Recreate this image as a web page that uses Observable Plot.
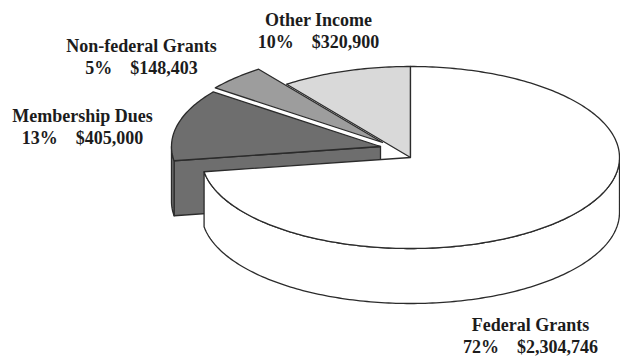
<!DOCTYPE html>
<html><head><meta charset="utf-8">
<script src="https://cdn.jsdelivr.net/npm/d3@7"></script>
<script src="https://cdn.jsdelivr.net/npm/@observablehq/plot@0.6"></script>
<style>html,body{margin:0;padding:0;background:#fff;} #chart svg{display:block}</style>
</head><body><div id="chart"></div><script>
// ---- data ----
const categories = ["Federal Grants", "Membership Dues", "Non-federal Grants", "Other Income"];
const amounts = [2304746, 405000, 148403, 320900];
const percentLabels = ["72%", "13%", "5%", "10%"];
const amountLabels = ["$2,304,746", "$405,000", "$148,403", "$320,900"];

// ---- layout / style ----
const W = 620, H = 358;
const CX = 410, CY = 157, RX = 209, RY = 91, DEPTH = 55;
const fills = {"Federal Grants": "#ffffff", "Membership Dues": "#6e6e6e", "Non-federal Grants": "#9d9d9d", "Other Income": "#d9d9d9"};
const explodePx = {"Federal Grants": [0, 0], "Membership Dues": [-30, -11], "Non-federal Grants": [-28, -15], "Other Income": [0, 0]};
const labelPx = {"Federal Grants": [530, 352], "Membership Dues": [82, 143], "Non-federal Grants": [141, 73], "Other Income": [318, 47]};
const drawOrder = ["Other Income", "Non-federal Grants", "Membership Dues", "Federal Grants"];

// ---- geometry from data ----
const total = d3.sum(amounts);
let start = 90;
const slices = categories.map((name, i) => {
  const sweep = amounts[i] / total * 360;
  const s = {name, i, a0: start, a1: start - sweep};
  start -= sweep;
  return s;
});
const rad = d => d * Math.PI / 180;
const D = DEPTH / RY;
const isExploded = n => explodePx[n][0] !== 0 || explodePx[n][1] !== 0;
function arc(ox, oy, from, to, dv = 0) {
  const n = Math.max(2, Math.ceil(Math.abs(to - from)));
  return d3.range(n + 1).map(k => {
    const a = rad(from + (to - from) * k / n);
    return [ox + Math.cos(a), oy + Math.sin(a) + dv];
  });
}
const faces = [];
for (const name of drawOrder) {
  const s = slices.find(d => d.name === name);
  const ox = explodePx[name][0] / RX, oy = -explodePx[name][1] / RY;
  const color = fills[name];
  const prev = slices[(s.i - 1 + slices.length) % slices.length].name;
  const next = slices[(s.i + 1) % slices.length].name;
  // radial cut faces
  if (isExploded(name) && !isExploded(prev) && Math.cos(rad(s.a0)) < -1e-6) {
    const r = [ox + Math.cos(rad(s.a0)), oy + Math.sin(rad(s.a0))];
    faces.push({color, pts: [[ox, oy], r, [r[0], r[1] - D], [ox, oy - D]]});
  }
  if (isExploded(name) && !isExploded(next) && Math.cos(rad(s.a1)) > 1e-6) {
    const r = [ox + Math.cos(rad(s.a1)), oy + Math.sin(rad(s.a1))];
    faces.push({color, pts: [[ox, oy], r, [r[0], r[1] - D], [ox, oy - D]]});
  }
  // outer wall, front half only
  for (let k = -2; k <= 1; k++) {
    const lo = Math.max(s.a1, k * 360 - 180), hi = Math.min(s.a0, k * 360);
    if (hi - lo > 0.01) {
      faces.push({color, pts: [...arc(ox, oy, lo, hi), ...arc(ox, oy, hi, lo, -D)]});
    }
  }
  // top face
  faces.push({color, pts: [[ox, oy], ...arc(ox, oy, s.a0, s.a1)]});
}

const labels = categories.map((name, i) => ({
  x: (labelPx[name][0] - CX) / RX,
  y: (CY - labelPx[name][1]) / RY,
  text: `${name}\n${percentLabels[i]}\u2002\u2002${amountLabels[i]}`
}));

const chart = Plot.plot({
  width: W, height: H,
  margin: 0,
  x: {domain: [-CX / RX, (W - CX) / RX], axis: null},
  y: {domain: [-(H - CY) / RY, CY / RY], axis: null},
  style: {background: "#ffffff", overflow: "visible"},
  marks: [
    ...faces.map(f => Plot.line(f.pts, {
      x: d => d[0], y: d => d[1], curve: "linear-closed",
      fill: f.color, stroke: "#2b2b2b", strokeWidth: 1.3, strokeLinejoin: "round"
    })),
    Plot.text(labels, {
      x: "x", y: "y", text: "text", textAnchor: "middle", lineAnchor: "bottom",
      lineHeight: 1.22, fontSize: 18, fontFamily: "Liberation Serif", fontWeight: "bold",
      fill: "#1c1c1c"
    })
  ]
});
document.getElementById("chart").appendChild(chart);
</script></body></html>
